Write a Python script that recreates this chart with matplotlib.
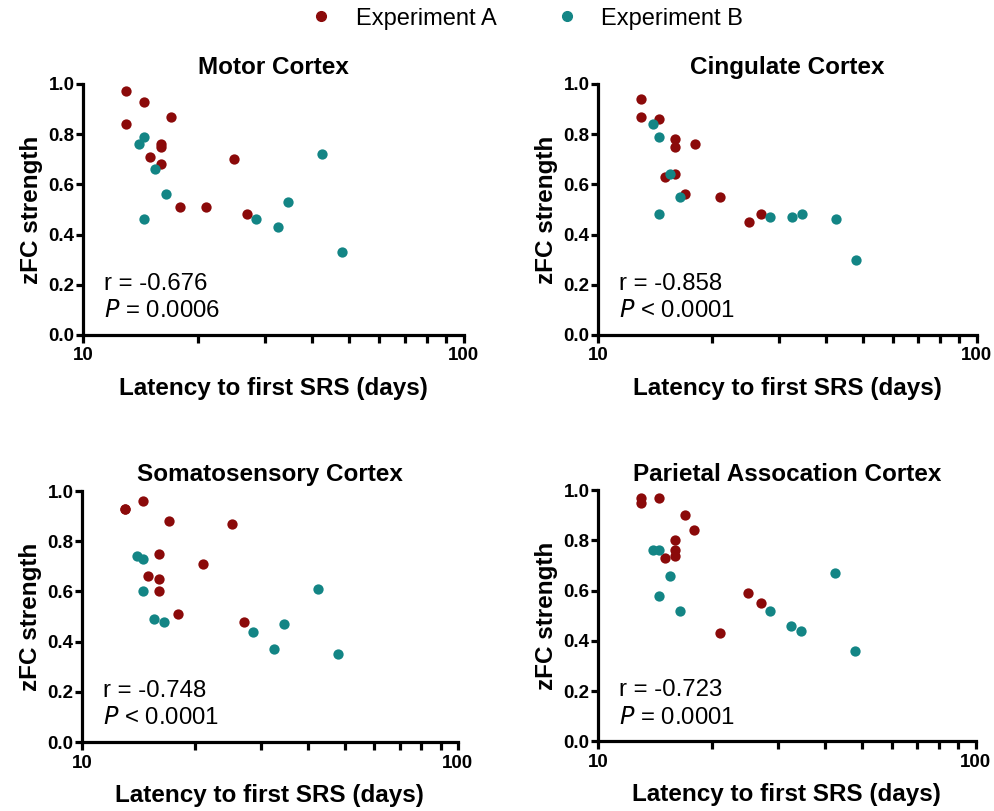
import numpy as np
import matplotlib
matplotlib.use("Agg")
import matplotlib.pyplot as plt
from matplotlib.ticker import FixedLocator, NullFormatter, FixedFormatter
from matplotlib.lines import Line2D

plt.rcParams['font.family'] = ['Liberation Sans', 'DejaVu Sans']

# latency to first SRS (days), same animals in every panel
lat_a = [13, 13, 14.5, 15, 16, 16, 16, 17, 18, 21, 25, 27]
lat_b = [14, 14.5, 14.5, 15.5, 16.5, 28.5, 32.5, 34.5, 42.5, 48]

titles = ["Motor Cortex", "Cingulate Cortex",
          "Somatosensory Cortex", "Parietal Assocation Cortex"]

# zFC strength per region
zfc_a = [
    [0.97, 0.84, 0.93, 0.71, 0.76, 0.75, 0.68, 0.87, 0.51, 0.51, 0.70, 0.48],
    [0.94, 0.87, 0.86, 0.63, 0.78, 0.75, 0.64, 0.56, 0.76, 0.55, 0.45, 0.48],
    [0.93, 0.93, 0.96, 0.66, 0.75, 0.65, 0.60, 0.88, 0.51, 0.71, 0.87, 0.48],
    [0.97, 0.95, 0.97, 0.73, 0.80, 0.76, 0.74, 0.90, 0.84, 0.43, 0.59, 0.55],
]
zfc_b = [
    [0.76, 0.79, 0.46, 0.66, 0.56, 0.46, 0.43, 0.53, 0.72, 0.33],
    [0.84, 0.79, 0.48, 0.64, 0.55, 0.47, 0.47, 0.48, 0.46, 0.30],
    [0.74, 0.73, 0.60, 0.49, 0.48, 0.44, 0.37, 0.47, 0.61, 0.35],
    [0.76, 0.76, 0.58, 0.66, 0.52, 0.52, 0.46, 0.44, 0.67, 0.36],
]
r_text = ["r = -0.676", "r = -0.858", "r = -0.748", "r = -0.723"]
p_sign = ["=", "<", "<", "="]
p_val = ["0.0006", "0.0001", "0.0001", "0.0001"]

col_a = "#8b0a0a"
col_b = "#138585"

fig = plt.figure(figsize=(9.94, 8.11), dpi=100)

# axes boxes in figure fractions
boxes = [
    [0.0835, 0.587, 0.383, 0.3095],
    [0.6016, 0.587, 0.381, 0.3095],
    [0.0825, 0.085, 0.378, 0.3095],
    [0.6016, 0.086, 0.380, 0.3095],
]

for i in range(4):
    ax = fig.add_axes(boxes[i])
    ax.scatter(lat_a, zfc_a[i], s=55, color=col_a, zorder=3, clip_on=False, linewidths=0)
    ax.scatter(lat_b, zfc_b[i], s=55, color=col_b, zorder=3, clip_on=False, linewidths=0)
    ax.set_xscale('log')
    ax.set_xlim(10, 100)
    ax.set_ylim(0, 1.0)
    ax.xaxis.set_major_locator(FixedLocator([10, 100]))
    ax.xaxis.set_major_formatter(FixedFormatter(["10", "100"]))
    ax.xaxis.set_minor_locator(FixedLocator([20, 30, 40, 50, 60, 70, 80, 90]))
    ax.xaxis.set_minor_formatter(NullFormatter())
    ax.set_yticks(np.arange(0, 1.01, 0.2))
    ax.set_yticklabels(["0.0", "0.2", "0.4", "0.6", "0.8", "1.0"])
    for s in ['top', 'right']:
        ax.spines[s].set_visible(False)
    for s in ['left', 'bottom']:
        ax.spines[s].set_linewidth(2.3)
    ax.tick_params(axis='both', which='both', width=2.3, direction='out', labelsize=13.5)
    ax.tick_params(axis='x', which='both', length=6, pad=3)
    ax.tick_params(axis='y', which='major', length=5, pad=1)
    for lab in ax.get_xticklabels() + ax.get_yticklabels():
        lab.set_fontweight('bold')
    ax.set_title(titles[i], fontsize=17.5, fontweight='bold', pad=7)
    ax.set_xlabel("Latency to first SRS (days)", fontsize=17.5, fontweight='bold', labelpad=9)
    ax.set_ylabel("zFC strength", fontsize=17.5, fontweight='bold', labelpad=4)
    ax.text(0.055, 0.18, r_text[i], transform=ax.transAxes, fontsize=17.3)
    ax.text(0.055, 0.07, "$\\mathit{P}$" + " " + p_sign[i] + " " + p_val[i],
            transform=ax.transAxes, fontsize=17.3)

handles = [
    Line2D([], [], marker='o', ls='none', color=col_a, markersize=7, label="Experiment A"),
    Line2D([], [], marker='o', ls='none', color=col_b, markersize=7, label="Experiment B"),
]
fig.legend(handles=handles, loc='center', bbox_to_anchor=(0.5236, 0.977), ncol=2,
           frameon=False, fontsize=17, columnspacing=2.0, handletextpad=0.45,
           handlelength=2.0, borderpad=0, borderaxespad=0)

fig.savefig("out.png", dpi=100)
